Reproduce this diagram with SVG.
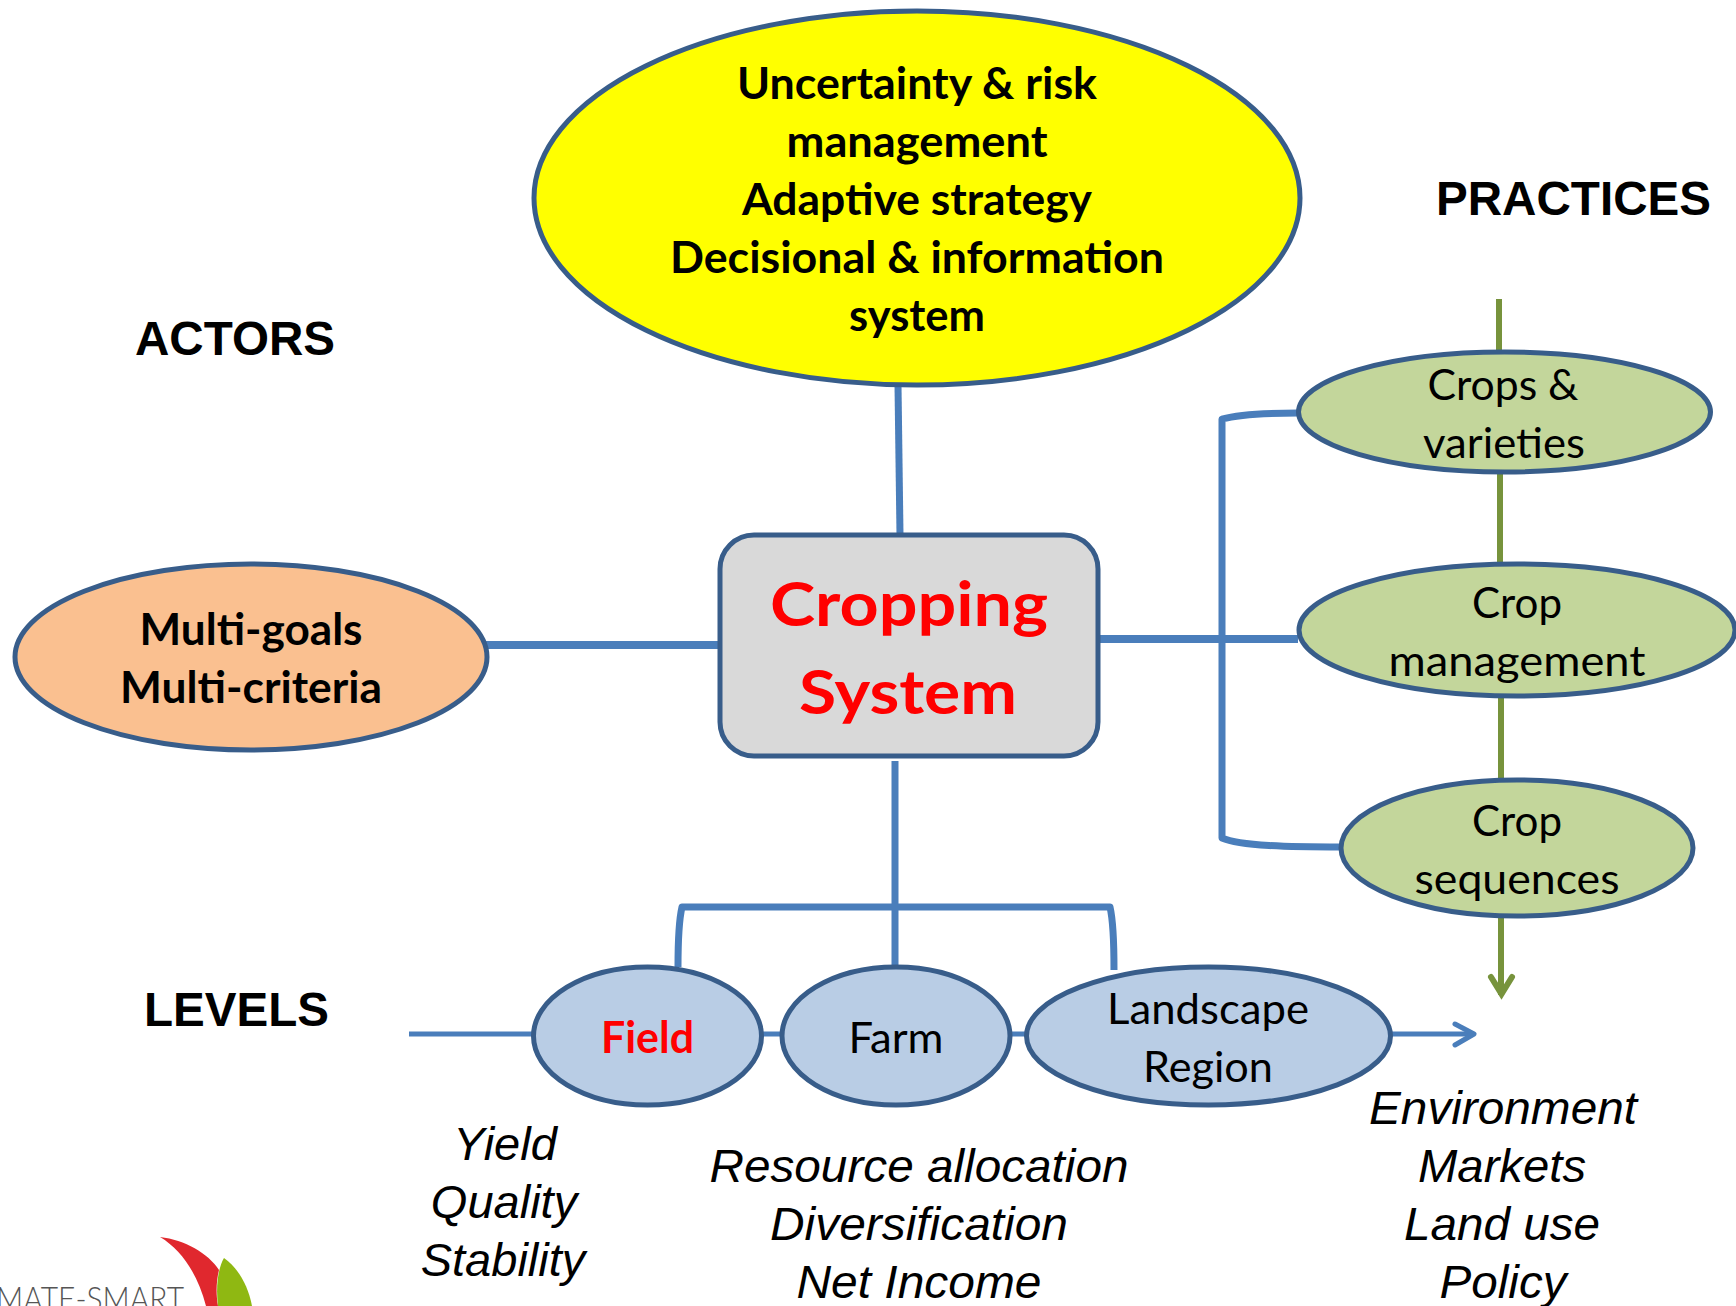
<svg xmlns="http://www.w3.org/2000/svg" width="1736" height="1306" viewBox="0 0 1736 1306">
<style>
.n{stroke:#385d8a;stroke-width:5}
.c{font-family:"Lato","Open Sans",sans-serif;font-size:43px;fill:#000;text-anchor:middle}
.b{font-weight:700}
.h{font-family:"Liberation Sans",Arial,sans-serif;font-weight:700;font-size:48px;fill:#000}
.i{font-family:"Liberation Sans",Arial,sans-serif;font-style:italic;font-size:47px;fill:#000;text-anchor:middle}
.bl{fill:none;stroke:#4a7ebb;stroke-linejoin:round}
.gl{fill:none;stroke:#77933c;stroke-width:6}
</style>
<rect width="1736" height="1306" fill="#fff"/>
<g id="connectors">
<path class="gl" d="M1499 299V352M1500 472V563M1501 697V778M1501 917V995"/>
<path class="gl" d="M1491 977L1501.500 994L1512 977" stroke-linecap="round"/>
<path class="bl" stroke-width="7" d="M898 385L900 535"/>
<path class="bl" stroke-width="8" d="M486 645H720"/>
<path class="bl" stroke-width="8" d="M1093 639H1298"/>
<path class="bl" stroke-width="7" d="M1298 413C1270 413 1240 414 1222 419V838C1240 846 1290 847 1341 847"/>
<path class="bl" stroke-width="7" d="M895 761V965"/>
<path class="bl" stroke-width="7" d="M678 967C678 940 679 920 682 907H1110C1113 920 1114 945 1114 970"/>
<path class="bl" stroke-width="5" d="M409 1034H1473"/>
<path class="bl" stroke-width="5" stroke-linecap="round" d="M1455 1024L1474 1034L1455 1045"/>
</g>
<g id="node-uncertainty">
<ellipse class="n" cx="917" cy="198" rx="383" ry="187" fill="#ffff00"/>
<text class="c b" x="917" y="99" textLength="360" lengthAdjust="spacingAndGlyphs">Uncertainty &amp; risk</text>
<text class="c b" x="917" y="157" textLength="261" lengthAdjust="spacingAndGlyphs">management</text>
<text class="c b" x="917" y="215" textLength="350" lengthAdjust="spacingAndGlyphs">Adaptive strategy</text>
<text class="c b" x="917" y="273" textLength="494" lengthAdjust="spacingAndGlyphs">Decisional &amp; information</text>
<text class="c b" x="917" y="331" textLength="136" lengthAdjust="spacingAndGlyphs">system</text>
</g>
<g id="node-goals">
<ellipse class="n" cx="251" cy="657" rx="236" ry="93" fill="#fac090"/>
<text class="c b" x="251" y="645" textLength="223" lengthAdjust="spacingAndGlyphs">Multi-goals</text>
<text class="c b" x="251" y="703" textLength="262" lengthAdjust="spacingAndGlyphs">Multi-criteria</text>
</g>
<g id="node-cropping-system">
<rect class="n" x="720" y="535" width="378" height="221" rx="34" fill="#d9d9d9"/>
<text class="c b" x="909" y="626" style="font-size:62px;fill:#ff0000" textLength="278" lengthAdjust="spacingAndGlyphs">Cropping</text>
<text class="c b" x="908" y="714" style="font-size:62px;fill:#ff0000" textLength="218" lengthAdjust="spacingAndGlyphs">System</text>
</g>
<g id="node-crops">
<ellipse class="n" cx="1504.500" cy="412" rx="206" ry="60" fill="#c3d69b"/>
<text class="c" x="1503" y="400" textLength="151" lengthAdjust="spacingAndGlyphs">Crops &amp;</text>
<text class="c" x="1504" y="458" textLength="162" lengthAdjust="spacingAndGlyphs">varieties</text>
</g>
<g id="node-management">
<ellipse class="n" cx="1517" cy="630" rx="218" ry="66" fill="#c3d69b"/>
<text class="c" x="1517" y="618" textLength="90" lengthAdjust="spacingAndGlyphs">Crop</text>
<text class="c" x="1517" y="676" textLength="257" lengthAdjust="spacingAndGlyphs">management</text>
</g>
<g id="node-sequences">
<ellipse class="n" cx="1517" cy="848" rx="176" ry="68" fill="#c3d69b"/>
<text class="c" x="1517" y="836" textLength="90" lengthAdjust="spacingAndGlyphs">Crop</text>
<text class="c" x="1517" y="894" textLength="205" lengthAdjust="spacingAndGlyphs">sequences</text>
</g>
<g id="node-field">
<ellipse class="n" cx="647.500" cy="1036" rx="114" ry="69" fill="#b9cde5"/>
<text class="c b" x="647.500" y="1053" style="fill:#ff0000" textLength="93" lengthAdjust="spacingAndGlyphs">Field</text>
</g>
<g id="node-farm">
<ellipse class="n" cx="896" cy="1036" rx="114" ry="69" fill="#b9cde5"/>
<text class="c" x="896" y="1053" textLength="95" lengthAdjust="spacingAndGlyphs">Farm</text>
</g>
<g id="node-landscape">
<ellipse class="n" cx="1208.500" cy="1036" rx="182" ry="69" fill="#b9cde5"/>
<text class="c" x="1208" y="1024" textLength="202" lengthAdjust="spacingAndGlyphs">Landscape</text>
<text class="c" x="1208" y="1082" textLength="130" lengthAdjust="spacingAndGlyphs">Region</text>
</g>
<g id="labels">
<text class="h" x="1436" y="215" textLength="275" lengthAdjust="spacingAndGlyphs">PRACTICES</text>
<text class="h" x="135" y="355" textLength="200" lengthAdjust="spacingAndGlyphs">ACTORS</text>
<text class="h" x="144" y="1026" textLength="185" lengthAdjust="spacingAndGlyphs">LEVELS</text>
<text class="i" x="505" y="1160">Yield</text>
<text class="i" x="504" y="1218">Quality</text>
<text class="i" x="503" y="1276">Stability</text>
<text class="i" x="919" y="1182" textLength="419" lengthAdjust="spacingAndGlyphs">Resource allocation</text>
<text class="i" x="919" y="1240" textLength="298" lengthAdjust="spacingAndGlyphs">Diversification</text>
<text class="i" x="919" y="1298" textLength="245" lengthAdjust="spacingAndGlyphs">Net Income</text>
<text class="i" x="1503" y="1124" textLength="268" lengthAdjust="spacingAndGlyphs">Environment</text>
<text class="i" x="1502" y="1182" textLength="168" lengthAdjust="spacingAndGlyphs">Markets</text>
<text class="i" x="1502" y="1240" textLength="196" lengthAdjust="spacingAndGlyphs">Land use</text>
<text class="i" x="1503" y="1298" textLength="127" lengthAdjust="spacingAndGlyphs">Policy</text>
</g>
<g id="logo">
<path d="M160 1237C185 1240 208 1253 219 1270C216 1282 216 1295 218 1306H206C198 1275 182 1250 160 1237Z" fill="#e0282e"/>
<path d="M224 1258C238 1268 248 1285 252 1306H218C216 1290 217 1270 224 1258Z" fill="#8fb812"/>
<text x="-4" y="1311" style="font-family:'Lato',sans-serif;font-weight:300;font-size:34px;fill:#555" textLength="188" lengthAdjust="spacingAndGlyphs">MATE-SMART</text>
</g>
</svg>
